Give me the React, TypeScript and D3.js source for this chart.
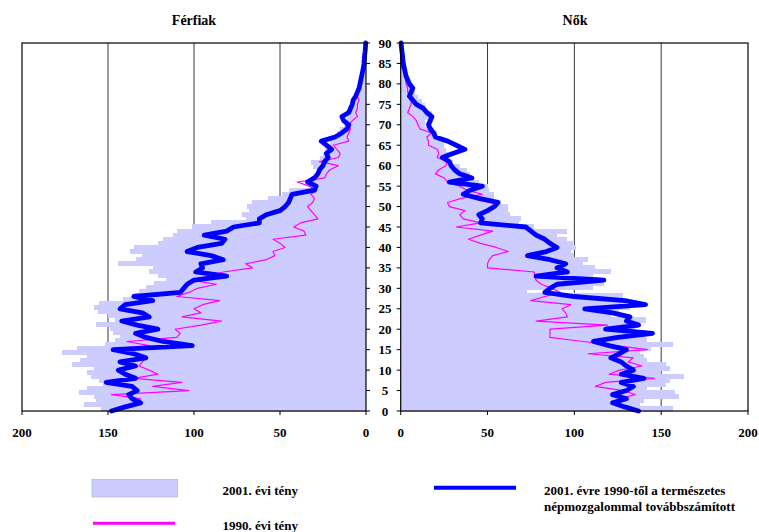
import React from 'react';
import * as d3 from 'd3';

const ages: number[] = Array.from({ length: 91 }, (_, i) => i);
const ageTicks = [0, 5, 10, 15, 20, 25, 30, 35, 40, 45, 50, 55, 60, 65, 70, 75, 80, 85, 90];
const valueTicks = [0, 50, 100, 150, 200];

// Férfiak (men)
const male2001 = [
  154, 164, 157, 158, 167, 162, 153, 155, 160, 162,
  158, 171, 166, 162, 177, 168, 152, 146, 143, 147,
  149, 157, 146, 150, 156, 158, 155, 141, 135, 132,
  128, 123, 116, 121, 126, 124, 144, 134, 130, 137,
  135, 121, 118, 112, 110, 101, 90, 70, 72, 68,
  69, 66, 57, 49, 45, 30, 31, 28, 27, 28,
  31, 32, 27, 25, 24, 23, 21, 19, 17, 15,
  13, 12, 11, 10, 9, 8, 7, 6, 5.5, 4.5,
  4, 3.5, 3, 2.5, 2, 1.5, 1.2, 1, 0.8, 0.6, 0.4,
];
const male1990 = [
  147, 136, 133, 131, 148, 103, 124, 107, 135, 121,
  126, 132, 130, 128, 140, 148, 126, 139, 110, 108,
  111, 96, 84, 107, 96, 100, 95, 85, 110, 103,
  98, 87, 102, 91, 83, 66, 70, 58, 53, 54,
  47, 50, 54, 35, 36, 42, 38, 28, 30, 32,
  34, 31, 30, 32, 29, 33, 40, 24, 23, 21,
  16, 27, 16, 15, 17, 19, 10, 11, 10, 9,
  10, 8, 5, 6, 5, 5, 4, 5, 5, 5,
  4, 3, 2, 1.5, 1.5, 1, 1, 0.8, 0.5, 0.5, 0.3,
];
const maleProj = [
  148, 140, 131, 136, 138, 133, 136, 151, 134, 140,
  144, 134, 143, 128, 135, 147, 101, 118, 128, 134,
  121, 133, 142, 126, 130, 143, 140, 124, 135, 108,
  106, 104, 100, 81, 99, 95, 96, 83, 90, 104,
  98, 84, 82, 94, 81, 77, 62, 62, 58, 50,
  47, 45, 44, 43, 30, 29, 34, 30, 28, 27,
  25, 24, 22, 23, 20, 23, 26, 18, 14, 11,
  10, 13, 14, 10, 9, 8, 7.5, 6, 5, 4,
  3.5, 3, 2.5, 2, 1.5, 1.2, 1, 0.8, 0.5, 0.3, 0.2,
];

// Nők (women)
const female2001 = [
  157, 138, 140, 160, 158, 142, 153, 155, 163, 150,
  155, 153, 142, 140, 138, 144, 157, 142, 141, 141,
  135, 132, 141, 121, 126, 132, 130, 124, 128, 73,
  111, 117, 114, 111, 121, 112, 105, 108, 100, 98,
  101, 99, 96, 90, 96, 77, 68, 69, 63, 62,
  62, 58, 54, 54, 51, 50, 45, 42, 40, 38,
  34, 30, 28, 27, 26, 25, 25, 23, 21, 19,
  14, 14, 18, 18, 14, 14, 12, 10, 8, 7,
  5, 5, 4, 3.5, 3, 2, 1.5, 1.2, 1, 0.7, 0.5,
];
const female1990 = [
  136, 131, 122, 126, 135, 128, 112, 118, 146, 120,
  126, 139, 131, 134, 108, 142, 124, 105, 86, 86,
  86, 119, 78, 96, 95, 93, 98, 75, 83, 92,
  87, 81, 78, 77, 77, 50, 50, 51, 53, 62,
  55, 46, 39, 46, 53, 32, 46, 36, 34, 37,
  28, 27, 35, 47, 38, 34, 27, 25, 20, 22,
  26, 27, 21, 22, 21, 16, 16, 15, 18, 11,
  10, 9, 7, 4, 5, 6, 6, 5, 4, 4,
  3, 3, 3, 2, 0.5, 0.5, 0.5, 0.5, 0.5, 0.3, 0.2,
];
const femaleProj = [
  137, 129, 122, 130, 122, 130, 134, 127, 140, 127,
  134, 130, 127, 121, 126, 130, 120, 111, 125, 145,
  118, 137, 130, 132, 122, 106, 141, 129, 100, 83,
  86, 90, 117, 78, 96, 90, 95, 86, 73, 84,
  90, 86, 83, 78, 75, 72, 46, 47, 45, 50,
  54, 56, 45, 36, 40, 47, 28, 41, 34, 31,
  29, 28, 24, 30, 37, 32, 27, 20, 19, 17,
  16, 17, 18, 15, 13, 9, 7, 5, 6, 7,
  5, 4, 3, 2.5, 2, 1.5, 1.2, 1, 0.7, 0.4, 0.2,
];

const legendLabels = {
  bars: '2001. évi tény',
  l1990: '1990. évi tény',
  proj1: '2001. évre 1990-től a természetes',
  proj2: 'népmozgalommal továbbszámított',
};

const FONT = "'Liberation Serif', 'Times New Roman', 'DejaVu Serif', serif";
const LAV = '#ccccff';
const BLUE = '#0000ff';
const MAG = '#ff00ff';

const TOP = 43;
const BOTTOM = 411;

const txt: React.CSSProperties = { fontFamily: FONT, fontWeight: 700, fontSize: '13px' };

export default function App() {
  const y = d3.scaleLinear().domain([0, 90]).range([BOTTOM, TOP]);
  const band = d3.scaleBand<number>().domain(ages).range([BOTTOM, TOP]).paddingInner(0).paddingOuter(0);
  const xM = d3.scaleLinear().domain([0, 200]).range([366, 22]);
  const xF = d3.scaleLinear().domain([0, 200]).range([400.7, 748]);

  const lineM = d3.line<number>().x((v) => xM(v)).y((_, i) => y(ages[i])).curve(d3.curveLinear);
  const lineF = d3.line<number>().x((v) => xF(v)).y((_, i) => y(ages[i])).curve(d3.curveLinear);

  const panel = (x: d3.ScaleLinear<number, number>, bars: number[], l90: number[], proj: number[], line: any, side: 'L' | 'R') => {
    const x0 = x(0);
    const x200 = x(200);
    const left = Math.min(x0, x200);
    const right = Math.max(x0, x200);
    return (
      <g>
        {[50, 100, 150].map((t) => (
          <line key={'g' + t} x1={x(t)} x2={x(t)} y1={TOP} y2={BOTTOM} stroke="#222" strokeWidth={0.9} />
        ))}
        <g shapeRendering="crispEdges">
          {bars.map((v, i) => {
            const xa = x(v);
            const b = band(ages[i]) as number;
            return (
              <rect
                key={'b' + i}
                x={Math.min(xa, x0)}
                y={b - 0.5}
                width={Math.abs(xa - x0)}
                height={band.bandwidth() + 1}
                fill={LAV}
              />
            );
          })}
        </g>
        <path d={line(l90)} fill="none" stroke={MAG} strokeWidth={1.2} strokeLinejoin="round" />
        <path d={line(proj)} fill="none" stroke={BLUE} strokeWidth={4.8} strokeLinejoin="round" strokeLinecap="round" />
        <rect x={left} y={TOP} width={right - left} height={BOTTOM - TOP} fill="none" stroke="#000" strokeWidth={1.2} />
        {valueTicks.map((t) => (
          <g key={'t' + t}>
            <line x1={x(t)} x2={x(t)} y1={BOTTOM} y2={BOTTOM + 4} stroke="#000" strokeWidth={1} />
            <text x={x(t)} y={BOTTOM + 26} textAnchor="middle" style={txt}>
              {t}
            </text>
          </g>
        ))}
        {ageTicks.map((a) => (
          <line
            key={'a' + a}
            x1={side === 'L' ? right : left - 4}
            x2={side === 'L' ? right + 4 : left}
            y1={y(a)}
            y2={y(a)}
            stroke="#000"
            strokeWidth={1}
          />
        ))}
      </g>
    );
  };

  return (
    <svg
      width={759}
      height={532}
      style={{ position: 'absolute', left: 0, top: 0, background: '#fff' }}
    >
      <rect x={0} y={0} width={759} height={532} fill="#fff" />
      <text x={194} y={25} textAnchor="middle" style={{ ...txt, fontSize: '14px' }}>Férfiak</text>
      <text x={575} y={25} textAnchor="middle" style={{ ...txt, fontSize: '14px' }}>Nők</text>
      {panel(xM, male2001, male1990, maleProj, lineM, 'L')}
      {panel(xF, female2001, female1990, femaleProj, lineF, 'R')}
      {ageTicks.map((a) => (
        <text key={'al' + a} x={385} y={y(a) + 4.5} textAnchor="middle" style={txt}>
          {a}
        </text>
      ))}
      {/* legend */}
      <rect x={92} y={479.5} width={85.5} height={17.5} fill={LAV} stroke="#b8b8d8" strokeWidth={0.8} />
      <text x={222.5} y={494.5} style={txt}>{legendLabels.bars}</text>
      <line x1={93} x2={175} y1={523.3} y2={523.3} stroke={MAG} strokeWidth={3} />
      <text x={222.5} y={529.5} style={txt}>{legendLabels.l1990}</text>
      <line x1={434} x2={516} y1={487.8} y2={487.8} stroke={BLUE} strokeWidth={4} />
      <text x={544} y={494.5} style={txt}>{legendLabels.proj1}</text>
      <text x={544} y={511} style={txt}>{legendLabels.proj2}</text>
    </svg>
  );
}
